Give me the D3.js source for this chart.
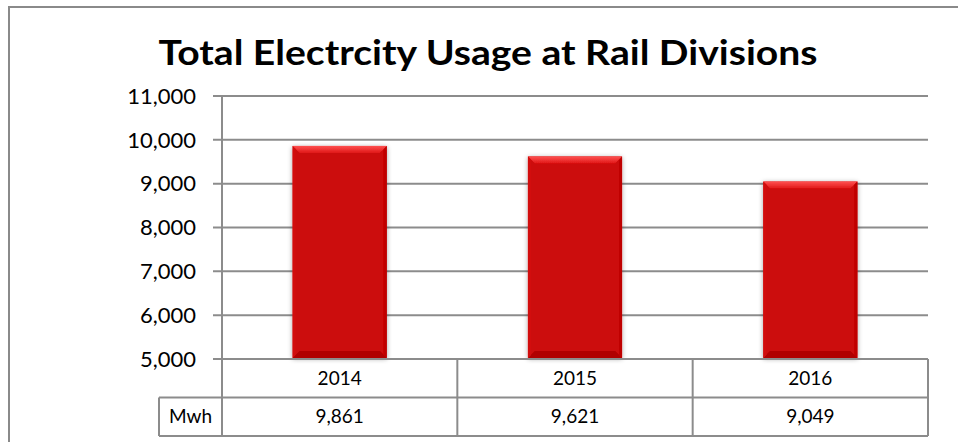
<!DOCTYPE html>
<html>
<head>
<meta charset="utf-8">
<script src="https://cdn.jsdelivr.net/npm/d3@7"></script>
<style>
  body { margin: 0; background: #fff; }
  svg { display: block; font-family: Lato, "Open Sans", sans-serif; }
</style>
</head>
<body>
<svg id="chart" width="958" height="442"></svg>
<script>
var years = ["2014", "2015", "2016"];
var usage = [9861, 9621, 9049];
var yTicks = [5000, 6000, 7000, 8000, 9000, 10000, 11000];
var rowLabel = "Mwh";
var title = "Total Electrcity Usage at Rail Divisions";

var svg = d3.select("#chart"),
    plot = {left: 222, right: 928, top: 96, bottom: 359},
    rowH = 38.5,
    gridColor = "#8c8c8c";

var xScale = d3.scaleBand().domain(years).range([plot.left, plot.right]).paddingInner(0).paddingOuter(0);
var yScale = d3.scaleLinear().domain([5000, 11000]).range([plot.bottom, plot.top]);
var fmt = d3.format(",");

// drop shadow for the bars
var defs = svg.append("defs");
var f = defs.append("filter").attr("id", "shadow").attr("x", "-20%").attr("y", "-20%").attr("width", "140%").attr("height", "140%");
f.append("feGaussianBlur").attr("in", "SourceAlpha").attr("stdDeviation", 2.5).attr("result", "b");
f.append("feOffset").attr("in", "b").attr("dx", 0).attr("dy", 1).attr("result", "o");
f.append("feComponentTransfer").attr("in", "o").attr("result", "s")
  .append("feFuncA").attr("type", "linear").attr("slope", 0.35);
var m = f.append("feMerge");
m.append("feMergeNode").attr("in", "s");
m.append("feMergeNode").attr("in", "SourceGraphic");

var topGrad = defs.append("linearGradient").attr("id", "topbev").attr("x1", 0).attr("y1", 0).attr("x2", 0).attr("y2", 1);
topGrad.append("stop").attr("offset", "0%").attr("stop-color", "#ff5050");
topGrad.append("stop").attr("offset", "100%").attr("stop-color", "#e01818");

// outer frame
svg.append("path")
    .attr("d", "M9,442 L9,7 L958,7")
    .attr("fill", "none").attr("stroke", "#8a8a8a").attr("stroke-width", 2);

// title
svg.append("text")
    .attr("x", 488).attr("y", 65)
    .attr("text-anchor", "middle")
    .attr("font-size", 34).attr("font-weight", "bold")
    .attr("textLength", 659).attr("lengthAdjust", "spacingAndGlyphs")
    .attr("fill", "#000")
    .text(title);

// gridlines + y ticks
var g = svg.append("g");
g.selectAll(".grid")
  .data(yTicks)
  .enter().append("line")
    .attr("x1", plot.left - 9).attr("x2", plot.right)
    .attr("y1", function(d) { return yScale(d); })
    .attr("y2", function(d) { return yScale(d); })
    .attr("stroke", gridColor).attr("stroke-width", 2);

g.selectAll(".ytick")
  .data(yTicks)
  .enter().append("text")
    .attr("x", 196)
    .attr("y", function(d) { return yScale(d); })
    .attr("dy", "0.35em")
    .attr("text-anchor", "end")
    .attr("font-size", 22)
    .attr("fill", "#000")
    .text(function(d) { return fmt(d); });

// y axis line running down through the table
g.append("line")
    .attr("x1", plot.left).attr("x2", plot.left)
    .attr("y1", plot.top).attr("y2", plot.bottom + 2 * rowH)
    .attr("stroke", gridColor).attr("stroke-width", 2);

// bars with bevel
var bw = xScale.bandwidth() * 0.4, bev = 7;
var bars = svg.selectAll(".bar")
  .data(usage)
  .enter().append("g")
    .attr("class", "bar")
    .attr("filter", "url(#shadow)");

bars.each(function(d, i) {
  var x = xScale(years[i]) + (xScale.bandwidth() - bw) / 2,
      y = yScale(d),
      h = yScale(5000) - y - 1,
      b = d3.select(this);
  b.append("rect").attr("x", x).attr("y", y).attr("width", bw).attr("height", h).attr("fill", "#cc0808");
  b.append("path").attr("fill", "url(#topbev)")
    .attr("d", "M" + x + "," + y + "L" + (x + bw) + "," + y + "L" + (x + bw - bev) + "," + (y + bev) + "L" + (x + bev) + "," + (y + bev) + "Z");
  b.append("path").attr("fill", "#b00404")
    .attr("d", "M" + x + "," + (y + h) + "L" + (x + bw) + "," + (y + h) + "L" + (x + bw - bev) + "," + (y + h - bev) + "L" + (x + bev) + "," + (y + h - bev) + "Z");
  b.append("path").attr("fill", "#bf0606")
    .attr("d", "M" + (x + bw) + "," + y + "L" + (x + bw) + "," + (y + h) + "L" + (x + bw - 3) + "," + (y + h - 3) + "L" + (x + bw - 3) + "," + (y + 3) + "Z");
  b.append("path").attr("fill", "#d21010")
    .attr("d", "M" + x + "," + y + "L" + x + "," + (y + h) + "L" + (x + 3) + "," + (y + h - 3) + "L" + (x + 3) + "," + (y + 3) + "Z");
});

// data table
var t = svg.append("g");
var r1 = plot.bottom, r2 = plot.bottom + rowH, r3 = plot.bottom + 2 * rowH, labelLeft = 159;
[r2, r3].forEach(function(yy) {
  t.append("line").attr("x1", labelLeft).attr("x2", plot.right).attr("y1", yy).attr("y2", yy)
    .attr("stroke", gridColor).attr("stroke-width", 2);
});
t.append("line").attr("x1", plot.left).attr("x2", plot.right).attr("y1", r1).attr("y2", r1)
  .attr("stroke", gridColor).attr("stroke-width", 2);
t.append("line").attr("x1", labelLeft).attr("x2", labelLeft).attr("y1", r2).attr("y2", r3)
  .attr("stroke", gridColor).attr("stroke-width", 2);
years.forEach(function(yr) {
  var xr = xScale(yr) + xScale.bandwidth();
  t.append("line").attr("x1", xr).attr("x2", xr).attr("y1", r1).attr("y2", r3)
    .attr("stroke", gridColor).attr("stroke-width", 2);
});

t.selectAll(".yr")
  .data(years)
  .enter().append("text")
    .attr("x", function(d) { return xScale(d) + xScale.bandwidth() / 2; })
    .attr("y", (r1 + r2) / 2).attr("dy", "0.35em")
    .attr("text-anchor", "middle").attr("font-size", 19)
    .text(function(d) { return d; });

t.selectAll(".val")
  .data(usage)
  .enter().append("text")
    .attr("x", function(d, i) { return xScale(years[i]) + xScale.bandwidth() / 2; })
    .attr("y", (r2 + r3) / 2).attr("dy", "0.35em")
    .attr("text-anchor", "middle").attr("font-size", 19)
    .text(function(d) { return fmt(d); });

t.append("text")
    .attr("x", (labelLeft + plot.left) / 2).attr("y", (r2 + r3) / 2).attr("dy", "0.35em")
    .attr("text-anchor", "middle").attr("font-size", 19)
    .text(rowLabel);
</script>
</body>
</html>
